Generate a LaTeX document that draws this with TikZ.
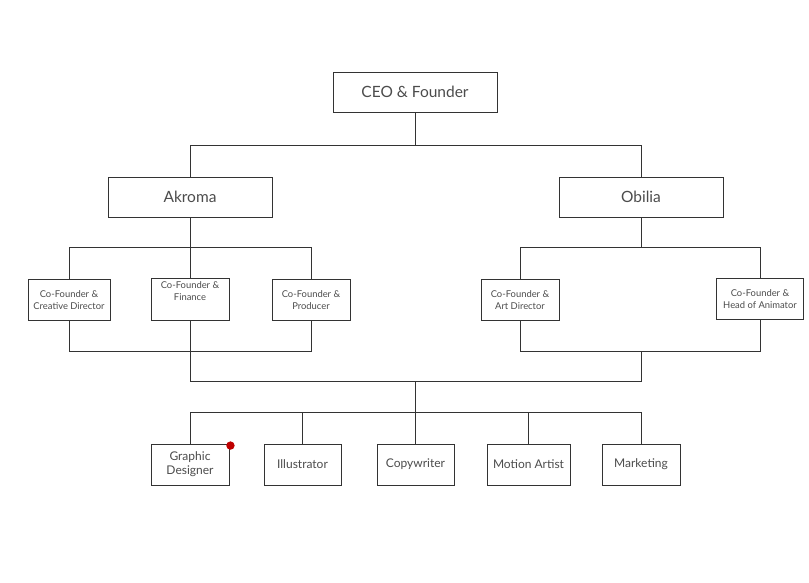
\documentclass[tikz,border=0pt]{standalone}
\usepackage{fontspec}
\setmainfont{Lato}
\begin{document}
\begin{tikzpicture}[x=1pt,y=-1pt,
  box/.style={draw=black!80, line width=0.9pt, fill=white, text=black!70, align=center, inner sep=0pt, font=\fontsize{#1}{#1}\selectfont},
  conn/.style={draw=black!80, line width=0.8pt}]
\useasboundingbox (0,0) rectangle (809,582);
% nodes
\node[box=15.5, minimum width=164, minimum height=40] (ceo) at (415,92) {CEO \& Founder};
\node[box=15.5, minimum width=164, minimum height=40] (akroma) at (190,197) {Akroma};
\node[box=15.5, minimum width=164, minimum height=40] (obilia) at (641,197) {Obilia};
\node[box=9.4, minimum width=82, minimum height=41] (cd) at (69,300) {Co-Founder \&\\[2.5pt]Creative Director};
\node[box=9.4, minimum width=78, minimum height=42] (fin) at (190,299) {Co-Founder \&\\[2.5pt]Finance\\[6pt]};
\node[box=9.4, minimum width=78, minimum height=41] (prod) at (311,300) {Co-Founder \&\\[2.5pt]Producer};
\node[box=9.4, minimum width=78, minimum height=41] (art) at (520,300) {Co-Founder \&\\[2.5pt]Art Director};
\node[box=9.4, minimum width=87, minimum height=41] (anim) at (760,299) {Co-Founder \&\\[2.5pt]Head of Animator};
\node[box=12, minimum width=78, minimum height=41] (gd) at (190,464.5) {Graphic\\[2pt]Designer};
\node[box=12, minimum width=77, minimum height=41] (ill) at (302.5,464.5) {Illustrator};
\node[box=12, minimum width=77, minimum height=41] (copy) at (415.5,464.5) {Copywriter};
\node[box=12, minimum width=83, minimum height=41] (mot) at (528.5,464.5) {Motion Artist};
\node[box=12, minimum width=78, minimum height=41] (mkt) at (641,464.5) {Marketing};
% junction coordinates
\coordinate (j1) at (415,145);
\coordinate (ja) at (190,247);
\coordinate (jo) at (641,247);
\coordinate (jab) at (190,351);
\coordinate (job) at (641,351);
\coordinate (j2) at (415,381);
\coordinate (j3) at (415,412);
% connectors
\draw[conn] (ceo.south) -- (j1);
\draw[conn] (akroma.north) -- (akroma.north |- j1) -- (obilia.north |- j1) -- (obilia.north);
\draw[conn] (akroma.south) -- (ja);
\draw[conn] (cd.north) -- (cd.north |- ja) -- (prod.north |- ja) -- (prod.north);
\draw[conn] (ja) -- (fin.north);
\draw[conn] (cd.south) -- (cd.south |- jab) -- (prod.south |- jab) -- (prod.south);
\draw[conn] (obilia.south) -- (jo);
\draw[conn] (art.north) -- (art.north |- jo) -- (anim.north |- jo) -- (anim.north);
\draw[conn] (art.south) -- (art.south |- job) -- (anim.south |- job) -- (anim.south);
\draw[conn] (fin.south) -- (fin.south |- j2) -- (job |- j2) -- (job);
\draw[conn] (j2) -- (j3);
\draw[conn] (gd.north) -- (gd.north |- j3) -- (mkt.north |- j3) -- (mkt.north);
\draw[conn] (ill.north) -- (ill.north |- j3);
\draw[conn] (copy.north) -- (copy.north |- j3);
\draw[conn] (mot.north) -- (mot.north |- j3);
% red dot
\fill[red!75!black] (gd.north east) ++(1,2) circle (4.2);
\end{tikzpicture}
\end{document}
